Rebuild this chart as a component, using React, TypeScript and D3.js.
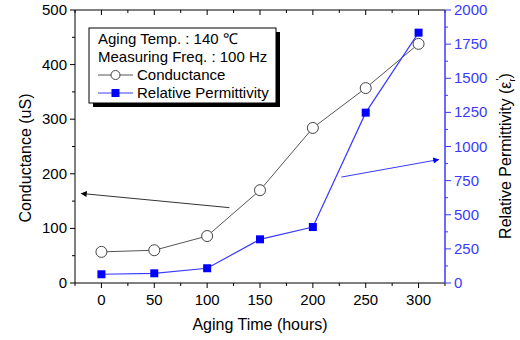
import React from "react";
import * as d3 from "d3";

// data
const hours = [0, 50, 100, 150, 200, 250, 300];
const conductance = [57, 60, 86, 170, 284, 357, 438];
const permittivity = [64, 71, 108, 320, 410, 1248, 1834];
const xTicks = [0, 50, 100, 150, 200, 250, 300];
const leftTicks = [0, 100, 200, 300, 400, 500];
const rightTicks = [0, 250, 500, 750, 1000, 1250, 1500, 1750, 2000];

const W = 520;
const H = 340;
const m = { left: 75, right: 75, top: 10, bottom: 57 };
const BLUE = "#0000ff";
const BLUE_L = "#3a3aff";
const FONT = "'Liberation Sans', Arial, sans-serif";

const App = () => {
  const x = d3.scaleLinear().domain([-25, 325]).range([m.left, W - m.right]);
  const yL = d3.scaleLinear().domain([0, 500]).range([H - m.bottom, m.top]);
  const yR = d3.scaleLinear().domain([0, 2000]).range([H - m.bottom, m.top]);

  const x0 = x.range()[0], x1 = x.range()[1];
  const y0 = yL.range()[0], y1 = yL.range()[1];

  const condLine = d3.line<number>().x((_, i) => x(hours[i])).y(d => yL(d));
  const permLine = d3.line<number>().x((_, i) => x(hours[i])).y(d => yR(d));

  const xMinor = d3.range(-25, 326, 25).filter(v => v % 50 !== 0);
  const lMinor = d3.range(50, 500, 100);
  const rMinor = d3.range(125, 2000, 250);

  return (
    <svg width={W} height={H} style={{ position: "absolute", left: 0, top: 0 }} fontFamily={FONT}>
      <defs>
        <marker id="ahK" viewBox="0 0 10 10" refX="9" refY="5" markerWidth="8" markerHeight="6" orient="auto" markerUnits="userSpaceOnUse">
          <path d="M0,0 L10,5 L0,10 z" fill="#000" />
        </marker>
        <marker id="ahB" viewBox="0 0 10 10" refX="9" refY="5" markerWidth="8" markerHeight="6" orient="auto" markerUnits="userSpaceOnUse">
          <path d="M0,0 L10,5 L0,10 z" fill={BLUE} />
        </marker>
      </defs>
      <rect width={W} height={H} fill="#fff" />

      {/* bottom axis */}
      <line x1={x0} x2={x1} y1={y0} y2={y0} stroke="#000" />
      {xTicks.map(t => (
        <g key={"xb" + t}>
          <line x1={x(t)} x2={x(t)} y1={y0} y2={y0 + 5} stroke="#000" />
          <text x={x(t)} y={y0 + 22} textAnchor="middle" fontSize={15}>{t}</text>
          <line x1={x(t)} x2={x(t)} y1={y1} y2={y1 + 5} stroke="#000" />
        </g>
      ))}
      {xMinor.map(t => (
        <g key={"xm" + t}>
          <line x1={x(t)} x2={x(t)} y1={y0} y2={y0 + 3} stroke="#000" />
          <line x1={x(t)} x2={x(t)} y1={y1} y2={y1 + 3} stroke="#000" />
        </g>
      ))}
      <line x1={x0} x2={x1} y1={y1} y2={y1} stroke="#000" />
      <text x={260} y={330} textAnchor="middle" fontSize={16}>Aging Time (hours)</text>

      {/* left axis */}
      <line x1={x0} x2={x0} y1={y0} y2={y1} stroke="#000" />
      {leftTicks.map(t => (
        <g key={"l" + t}>
          <line x1={x0 - 5} x2={x0} y1={yL(t)} y2={yL(t)} stroke="#000" />
          <text x={x0 - 8} y={yL(t) + 5} textAnchor="end" fontSize={15}>{t}</text>
        </g>
      ))}
      {lMinor.map(t => (
        <line key={"lm" + t} x1={x0 - 3} x2={x0} y1={yL(t)} y2={yL(t)} stroke="#000" />
      ))}
      <text transform="translate(31,158) rotate(-90)" textAnchor="middle" fontSize={16}>Conductance (uS)</text>

      {/* right axis */}
      <line x1={x1} x2={x1} y1={y0} y2={y1} stroke={BLUE_L} strokeWidth={1.5} />
      {rightTicks.map(t => (
        <g key={"r" + t}>
          <line x1={x1} x2={x1 + 6} y1={yR(t)} y2={yR(t)} stroke={BLUE_L} />
          <text x={x1 + 9} y={yR(t) + 5} fontSize={15} fill={BLUE_L}>{t}</text>
        </g>
      ))}
      {rMinor.map(t => (
        <line key={"rm" + t} x1={x1} x2={x1 + 3} y1={yR(t)} y2={yR(t)} stroke={BLUE_L} />
      ))}
      <text transform="translate(511,156) rotate(-90)" textAnchor="middle" fontSize={16}>
        Relative Permittivity (ε<tspan fontSize={9} dy={4}>r</tspan><tspan fontSize={11} dy={-11} dx={-2}>'</tspan><tspan dy={7}>)</tspan>
      </text>

      {/* series */}
      <path d={condLine(conductance) || ""} fill="none" stroke="#555" strokeWidth={1} />
      <path d={permLine(permittivity) || ""} fill="none" stroke={BLUE_L} strokeWidth={1.2} />
      {conductance.map((v, i) => (
        <circle key={"c" + i} cx={x(hours[i])} cy={yL(v)} r={5.5} fill="#fff" stroke="#444" strokeWidth={1} />
      ))}
      {permittivity.map((v, i) => (
        <rect key={"p" + i} x={x(hours[i]) - 4} y={yR(v) - 4} width={8} height={8} fill={BLUE} />
      ))}

      {/* arrows */}
      <line x1={x(121)} y1={yL(138)} x2={x(-19)} y2={yL(164)} stroke="#333" strokeWidth={1} markerEnd="url(#ahK)" />
      <line x1={x(227)} y1={yR(776)} x2={x(319)} y2={yR(904)} stroke={BLUE_L} strokeWidth={1} markerEnd="url(#ahB)" />

      {/* legend */}
      <rect x={93} y={32} width={187} height={75} fill="#000" />
      <rect x={89} y={28} width={187} height={75} fill="#fff" stroke="#000" strokeWidth={1} />
      <g fontSize={15}>
        <text x={98} y={44}>Aging Temp. : 140 ℃</text>
        <text x={98} y={62}>Measuring Freq. : 100 Hz</text>
        <line x1={98} x2={133} y1={75} y2={75} stroke="#555" />
        <circle cx={115.5} cy={75} r={4.5} fill="#fff" stroke="#444" />
        <text x={137} y={80}>Conductance</text>
        <line x1={98} x2={133} y1={93} y2={93} stroke={BLUE_L} />
        <rect x={111.5} y={89} width={8} height={8} fill={BLUE} />
        <text x={137} y={98}>Relative Permittivity</text>
      </g>
    </svg>
  );
};

export default App;
